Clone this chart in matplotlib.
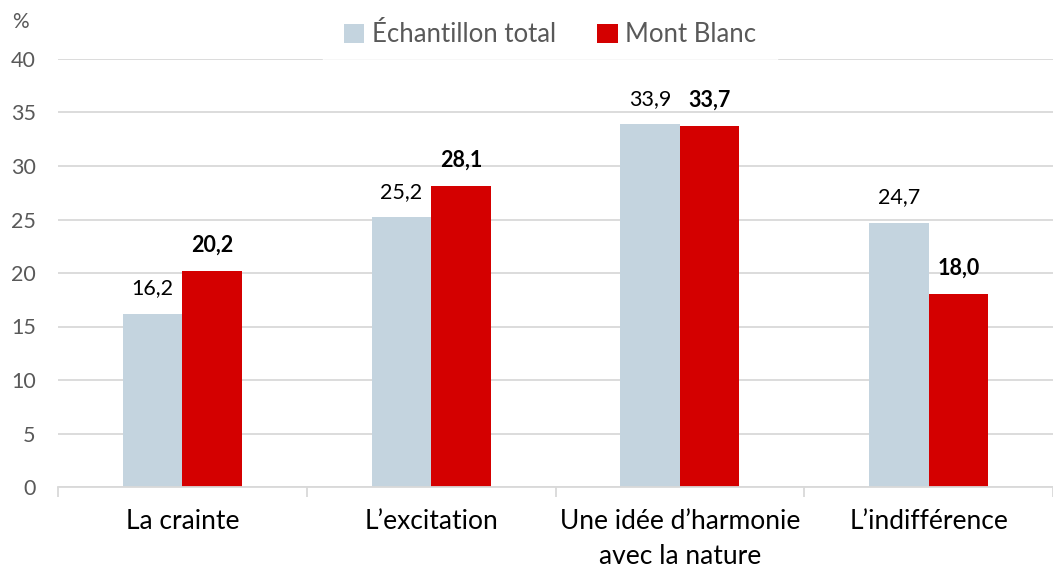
import matplotlib
matplotlib.use("Agg")
import matplotlib.pyplot as plt
import numpy as np

# données
categories = ["La crainte", "L\u2019excitation", "Une id\u00e9e d\u2019harmonie\navec la nature", "L\u2019indiff\u00e9rence"]
echantillon_total = [16.2, 25.2, 33.9, 24.7]
mont_blanc = [20.2, 28.1, 33.7, 18.0]
series_noms = ["\u00c9chantillon total", "Mont Blanc"]

plt.rcParams['font.family'] = ['Lato', 'DejaVu Sans']

gris = "#c4d4df"
rouge = "#d40000"
gris_texte = "#595959"

fig = plt.figure(figsize=(10.53, 5.69), dpi=100)
ax = fig.add_axes([58/1053, 1 - 487/569, 1 - 58/1053, (487 - 59)/569])

x = np.arange(len(categories))
w = 60/251
ax.bar(x - w/2, echantillon_total, w, color=gris, label=series_noms[0], zorder=2)
ax.bar(x + w/2, mont_blanc, w, color=rouge, label=series_noms[1], zorder=2)

def fmt(v):
    return f"{v:.1f}".replace(".", ",")

for xi, v in zip(x - w/2, echantillon_total):
    ax.annotate(fmt(v), (xi, v), xytext=(0, 11), textcoords="offset points",
                ha="center", va="bottom", fontsize=15.5, color="black")
for xi, v in zip(x + w/2, mont_blanc):
    ax.annotate(fmt(v), (xi, v), xytext=(0, 11), textcoords="offset points",
                ha="center", va="bottom", fontsize=15.5, color="black", fontweight="bold")

ax.set_ylim(0, 40)
ax.set_yticks(np.arange(0, 41, 5))
ax.set_xlim(-0.5, (1053 - 183.5)/251)
ax.grid(axis="y", color="#d9d9d9", linewidth=1.3, zorder=0)
ax.set_axisbelow(True)
for s in ["top", "right", "left"]:
    ax.spines[s].set_visible(False)
ax.spines["bottom"].set_color("#d9d9d9")
ax.spines["bottom"].set_linewidth(1.3)

ax.tick_params(axis="y", length=0, labelsize=15.5, labelcolor=gris_texte, pad=16)
ax.set_xticks(x)
ax.set_xticklabels(categories, fontsize=19, color="black", linespacing=1.5)
ax.tick_params(axis="x", length=0, pad=16)
ax.set_xticks(np.arange(-0.5, 3.6, 1), minor=True)
ax.tick_params(axis="x", which="minor", length=7, color="#d9d9d9", width=1.3)

leg = ax.legend(loc="center", bbox_to_anchor=(550/1053, 1 - 35/569), bbox_transform=fig.transFigure,
                ncol=2, frameon=True, fontsize=18.5, handlelength=0.8, handleheight=0.8,
                handletextpad=0.3, columnspacing=1.6, borderpad=0.8)
leg.get_frame().set_facecolor("white")
leg.get_frame().set_edgecolor("white")
leg.get_frame().set_boxstyle("square", pad=0)
for t in leg.get_texts():
    t.set_color(gris_texte)

fig.text(12/1053, 1 - 22/569, "%", fontsize=15, color=gris_texte, va="center", ha="left")

fig.savefig("out.png", dpi=100)
